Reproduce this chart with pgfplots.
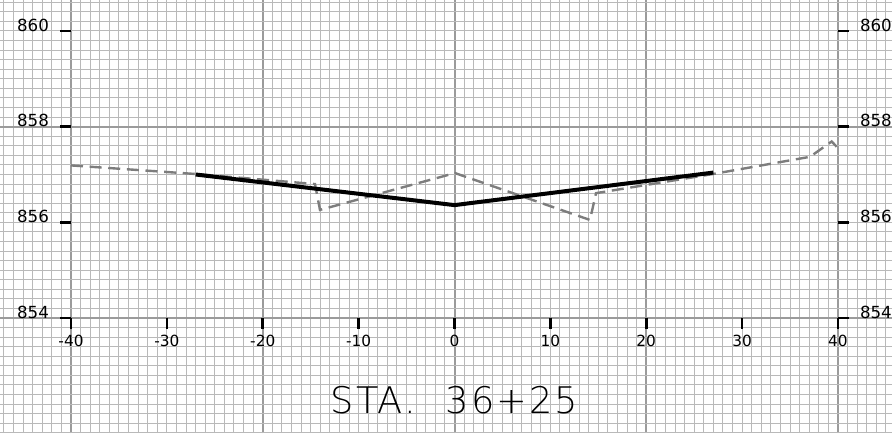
\documentclass[border=0pt]{standalone}
\usepackage{pgfplots}
\pgfplotsset{compat=1.18}
\usepackage{fontspec}
\setmainfont{DejaVu Sans}
\newfontfamily\titlefont{DejaVu Sans ExtraLight}[LetterSpace=6]
\definecolor{minorgrid}{RGB}{185,185,185}
\definecolor{majorgrid}{RGB}{155,155,155}
\definecolor{ground}{RGB}{125,125,125}
\begin{document}
\begin{tikzpicture}[x=1pt,y=1pt]
\useasboundingbox (0,0) rectangle (669,324.75);
\begin{axis}[
  at={(0pt,0pt)}, anchor=south west,
  scale only axis, width=669pt, height=324.75pt,
  xmin=-47.405, xmax=45.632, ymin=851.596, ymax=860.648,
  axis line style={draw=none},
  xtick={-40,-20,0,20,40}, ytick={854,858},
  minor xtick={-47,-46,...,45},
  minor ytick={851.6,851.8,...,860.6},
  xticklabels={}, yticklabels={},
  major tick length=0pt, minor tick length=0pt,
  grid=both,
  minor grid style={minorgrid, line width=0.75pt},
  major grid style={majorgrid, line width=1.5pt},
]
\addplot[ground, line width=1.8pt, dash pattern=on 9pt off 5pt] coordinates {
(-40,857.19) (-26.96,857.01) (-14.55,856.80) (-14.03,856.26) (0.05,857.03)
(14.13,856.05) (14.76,856.61) (26.96,857.01) (37.08,857.37) (39.34,857.69) (39.86,857.58)};
\addplot[black, line width=3pt] coordinates {(-27,857.0) (0,856.36) (27,857.04)};
\node[anchor=base, font=\titlefont\fontsize{27.5}{30}\selectfont] at (axis cs:0,852.0) {STA.\hspace{22pt}36+25};
\end{axis}
\begin{axis}[
  at={(53.25pt,86.25pt)}, anchor=south west,
  scale only axis, width=575.25pt, height=215.25pt,
  xmin=-40, xmax=40, ymin=854, ymax=860,
  axis line style={draw=none},
  xtick={-40,-30,...,40}, xticklabels={-40,-30,-20,-10,0,10,20,30,40},
  ytick={854,856,858,860}, yticklabels={854,856,858,860},
  xtick pos=bottom, ytick pos=left,
  tick align=outside, major tick length=8pt,
  every tick/.style={black, line width=2pt},
  xticklabel style={font=\fontsize{11.5}{13}\selectfont, yshift=-1pt},
  yticklabel style={font=\fontsize{12.5}{14}\selectfont, yshift=4.5pt, xshift=-5pt},
]
\end{axis}
\begin{axis}[
  at={(53.25pt,86.25pt)}, anchor=south west,
  scale only axis, width=575.25pt, height=215.25pt,
  xmin=-40, xmax=40, ymin=854, ymax=860,
  axis line style={draw=none},
  xtick=\empty,
  ytick={854,856,858,860}, yticklabels={854,856,858,860},
  ytick pos=right, yticklabel pos=right,
  tick align=outside, major tick length=8pt,
  every tick/.style={black, line width=2pt},
  yticklabel style={font=\fontsize{12.5}{14}\selectfont, yshift=4.5pt, xshift=5pt},
]
\end{axis}
\end{tikzpicture}
\end{document}
